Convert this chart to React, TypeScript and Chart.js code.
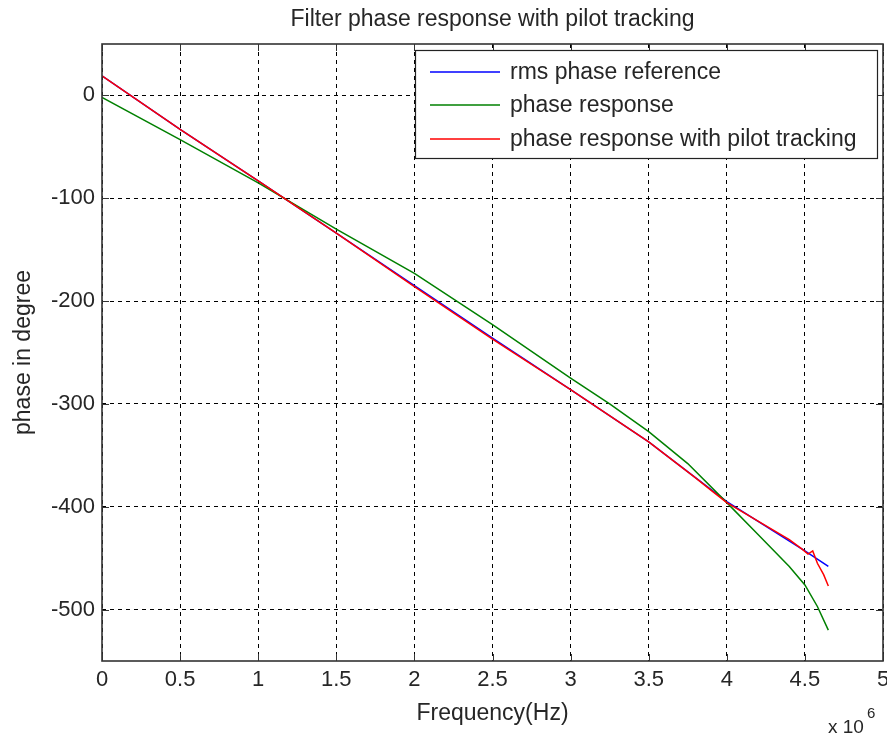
import React, { useEffect, useRef } from "react";
import { Chart, registerables } from "chart.js";

Chart.register(...registerables);

// ---- texts ----
const TITLE = "Filter phase response with pilot tracking";
const X_LABEL = "Frequency(Hz)";
const Y_LABEL = "phase in degree";
const X_EXPONENT_BASE = "x 10";
const X_EXPONENT = "6";
const LEGEND_LABELS = [
  "rms phase reference",
  "phase response",
  "phase response with pilot tracking",
];

// ---- ticks ----
const X_TICKS = [0, 0.5, 1, 1.5, 2, 2.5, 3, 3.5, 4, 4.5, 5];
const Y_TICKS = [-500, -400, -300, -200, -100, 0];
const X_MIN = 0;
const X_MAX = 5;
const Y_MIN = -550;
const Y_MAX = 50;

// ---- data (frequency in units of 10^6 Hz, phase in degrees) ----
const refFreq = [0, 0.5, 1, 1.5, 2, 2.5, 3, 3.5, 4, 4.5, 4.65];
const refPhase = [19, -33, -83, -134, -185, -236, -286, -337, -395, -443, -458];

const respFreq = [0, 0.5, 1, 1.5, 2, 2.5, 3, 3.25, 3.5, 3.75, 4, 4.2, 4.4, 4.5, 4.58, 4.65];
const respPhase = [-2, -43, -85, -130, -173, -223, -275, -300, -327, -358, -396, -427, -458, -476, -497, -520];

const trackFreq = [0, 0.5, 1, 1.5, 2, 2.5, 3, 3.5, 3.8, 3.9, 4, 4.1, 4.2, 4.3, 4.4, 4.48, 4.52, 4.55, 4.58, 4.62, 4.65];
const trackPhase = [19, -33, -83, -134, -186, -237, -286, -337, -372, -384, -396, -405, -414, -423, -432, -441, -446, -443, -455, -466, -477];

// ---- styles ----
const FONT = '"Liberation Sans", Arial, Helvetica, sans-serif';
const TEXT_COLOR = "#262626";
const FRAME_COLOR = "#333333";
const COLORS = ["#0000ff", "#008000", "#ff0000"];

const toPoints = (xs: number[], ys: number[]) => xs.map((x, i) => ({ x, y: ys[i] }));

const decorPlugin = {
  id: "decor",
  afterDraw(chart: any) {
    const { ctx, chartArea } = chart;
    const { left, right, top, bottom } = chartArea;
    const xs = chart.scales.x;
    const ys = chart.scales.y;
    ctx.save();

    // frame
    ctx.strokeStyle = FRAME_COLOR;
    ctx.lineWidth = 1.6;
    ctx.setLineDash([]);
    ctx.strokeRect(left, top, right - left, bottom - top);

    // inward ticks
    ctx.lineWidth = 1;
    const tl = 7;
    ctx.beginPath();
    X_TICKS.forEach((v) => {
      const px = Math.round(xs.getPixelForValue(v)) + 0.5;
      ctx.moveTo(px, bottom);
      ctx.lineTo(px, bottom - tl);
      ctx.moveTo(px, top);
      ctx.lineTo(px, top + tl);
    });
    Y_TICKS.forEach((v) => {
      const py = Math.round(ys.getPixelForValue(v)) + 0.5;
      ctx.moveTo(left, py);
      ctx.lineTo(left + tl, py);
      ctx.moveTo(right, py);
      ctx.lineTo(right - tl, py);
    });
    ctx.stroke();

    // title
    ctx.fillStyle = TEXT_COLOR;
    ctx.font = `23px ${FONT}`;
    ctx.textAlign = "center";
    ctx.textBaseline = "alphabetic";
    ctx.fillText(TITLE, (left + right) / 2, 26);

    // exponent
    ctx.textAlign = "left";
    ctx.font = `19px ${FONT}`;
    ctx.fillText(X_EXPONENT_BASE, 828, 733);
    ctx.font = `15px ${FONT}`;
    ctx.fillText(X_EXPONENT, 867, 718);

    // legend box
    const lx = 415, ly = 50, lw = 462, lh = 108;
    ctx.fillStyle = "#ffffff";
    ctx.fillRect(lx, ly, lw, lh);
    ctx.strokeStyle = "#222222";
    ctx.lineWidth = 1.2;
    ctx.strokeRect(lx + 0.5, ly + 0.5, lw, lh);
    const rows = [72, 105, 139];
    ctx.font = `23px ${FONT}`;
    ctx.textBaseline = "middle";
    LEGEND_LABELS.forEach((label, i) => {
      ctx.strokeStyle = COLORS[i];
      ctx.lineWidth = 1.5;
      ctx.beginPath();
      ctx.moveTo(430, rows[i]);
      ctx.lineTo(500, rows[i]);
      ctx.stroke();
      ctx.fillStyle = TEXT_COLOR;
      ctx.fillText(label, 510, rows[i] + 1);
    });

    ctx.restore();
  },
};

export default function App() {
  const canvasRef = useRef<HTMLCanvasElement | null>(null);

  useEffect(() => {
    if (!canvasRef.current) return;
    const chart = new Chart(canvasRef.current, {
      type: "line",
      data: {
        datasets: [
          {
            label: LEGEND_LABELS[0],
            data: toPoints(refFreq, refPhase),
            borderColor: COLORS[0],
            backgroundColor: COLORS[0],
            borderWidth: 1.5,
            pointRadius: 0,
            tension: 0,
            order: 2,
          },
          {
            label: LEGEND_LABELS[1],
            data: toPoints(respFreq, respPhase),
            borderColor: COLORS[1],
            backgroundColor: COLORS[1],
            borderWidth: 1.5,
            pointRadius: 0,
            tension: 0,
            order: 1,
          },
          {
            label: LEGEND_LABELS[2],
            data: toPoints(trackFreq, trackPhase),
            borderColor: COLORS[2],
            backgroundColor: COLORS[2],
            borderWidth: 1.5,
            pointRadius: 0,
            tension: 0,
            order: 0,
          },
        ],
      },
      options: {
        animation: false,
        responsive: false,
        events: [],
        layout: { padding: { top: 44, right: 4, bottom: 0, left: 0 } },
        plugins: {
          legend: { display: false },
          title: { display: false },
          tooltip: { enabled: false },
        },
        scales: {
          x: {
            type: "linear",
            min: X_MIN,
            max: X_MAX,
            afterBuildTicks: (s: any) => {
              s.ticks = X_TICKS.map((v) => ({ value: v }));
            },
            afterFit: (s: any) => {
              s.height = 75;
              s.paddingLeft = 0;
              s.paddingRight = 0;
            },
            grid: { color: "#000000", lineWidth: 1, drawTicks: false },
            border: { display: false, dash: [4, 4] },
            ticks: {
              padding: 6,
              color: TEXT_COLOR,
              font: { family: FONT, size: 22 },
              maxRotation: 0,
              autoSkip: false,
              callback: (v: any) => String(v),
            },
            title: {
              display: true,
              text: X_LABEL,
              color: TEXT_COLOR,
              font: { family: FONT, size: 23 },
              padding: { top: 0, bottom: 9 },
            },
          },
          y: {
            type: "linear",
            min: Y_MIN,
            max: Y_MAX,
            afterBuildTicks: (s: any) => {
              s.ticks = Y_TICKS.map((v) => ({ value: v }));
            },
            afterFit: (s: any) => {
              s.width = 102;
              s.paddingTop = 0;
              s.paddingBottom = 0;
            },
            grid: { color: "#000000", lineWidth: 1, drawTicks: false },
            border: { display: false, dash: [4, 4] },
            ticks: {
              padding: 7,
              color: TEXT_COLOR,
              font: { family: FONT, size: 22 },
              autoSkip: false,
              callback: (v: any) => String(v),
            },
            title: {
              display: true,
              text: Y_LABEL,
              color: TEXT_COLOR,
              font: { family: FONT, size: 23 },
              padding: { top: 10, bottom: 0 },
            },
          },
        },
      },
      plugins: [decorPlugin],
    });
    return () => chart.destroy();
  }, []);

  return (
    <div style={{ position: "absolute", left: 0, top: 0, width: 887, height: 736, background: "#ffffff" }}>
      <canvas ref={canvasRef} width={887} height={736} style={{ display: "block", width: 887, height: 736 }} />
    </div>
  );
}
